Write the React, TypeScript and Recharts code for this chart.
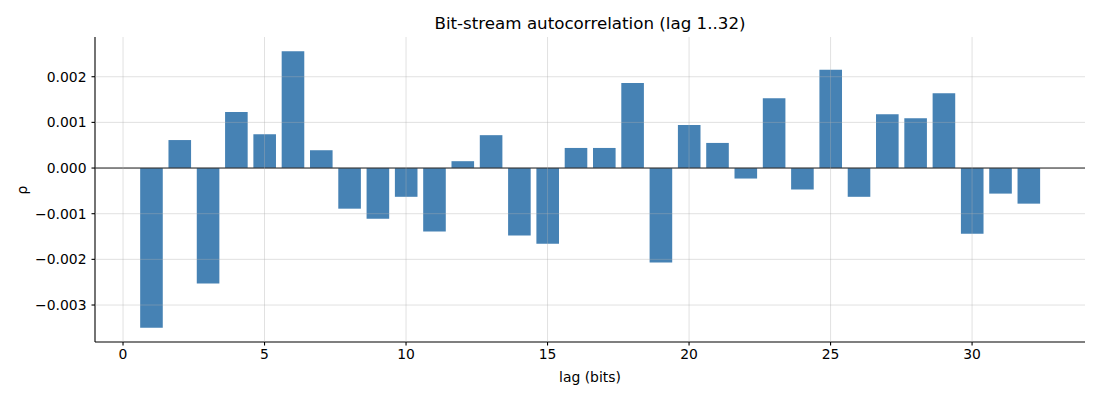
import React from 'react';
import { BarChart, Bar, XAxis, YAxis, CartesianGrid, ReferenceLine } from 'recharts';

const lags = [1, 2, 3, 4, 5, 6, 7, 8, 9, 10, 11, 12, 13, 14, 15, 16, 17, 18, 19, 20, 21, 22, 23, 24, 25, 26, 27, 28, 29, 30, 31, 32];
const rho = [
  -0.0035, 0.000613, -0.00253, 0.00123, 0.00074, 0.00256, 0.00039, -0.00089,
  -0.00111, -0.00063, -0.00139, 0.00015, 0.00072, -0.00148, -0.00166, 0.00044,
  0.00044, 0.00186, -0.00207, 0.00094, 0.00055, -0.00023, 0.00153, -0.00047,
  0.00215, -0.00063, 0.00118, 0.00109, 0.00164, -0.00144, -0.00056, -0.00078,
];
const xTicks = [0, 5, 10, 15, 20, 25, 30];
const yTicks = [-0.003, -0.002, -0.001, 0, 0.001, 0.002];

const title = 'Bit-stream autocorrelation (lag 1..32)';
const xLabel = 'lag (bits)';
const yLabel = 'ρ';

const data = lags.map((lag, i) => ({ lag, rho: rho[i] }));

const fmtY = (v: number) => {
  const s = Math.abs(v).toFixed(3);
  return v < -1e-12 ? '\u2212' + s : s;
};

const FONT = '"DejaVu Sans", sans-serif';

export default function App() {
  return (
    <div style={{ position: 'absolute', left: 0, top: 0, width: 1100, height: 400, background: '#fff', fontFamily: FONT }}>
      <div style={{ position: 'absolute', left: 95, width: 990, top: 13, textAlign: 'center', fontSize: 16.7, lineHeight: '20px', color: '#000' }}>
        {title}
      </div>
      <div style={{ position: 'absolute', left: 95, width: 990, top: 368, textAlign: 'center', fontSize: 13.9, lineHeight: '18px', color: '#000' }}>
        {xLabel}
      </div>
      <div style={{ position: 'absolute', left: 12, top: 180, width: 20, height: 20, lineHeight: '20px', textAlign: 'center', fontSize: 13.9, color: '#000', transform: 'rotate(-90deg)' }}>
        {yLabel}
      </div>
      <BarChart width={1100} height={400} data={data} margin={{ top: 37, right: 15, bottom: 0, left: 0 }}>
        <XAxis
          type="number"
          dataKey="lag"
          domain={[-0.99, 33.99]}
          ticks={xTicks}
          allowDataOverflow
          height={58}
          tickSize={3.5}
          tickMargin={4}
          interval={0}
          stroke="#000"
          strokeWidth={1.1}
          tick={{ fill: '#000', fontSize: 13.9, fontFamily: FONT }}
          tickLine={{ stroke: '#000', strokeWidth: 1.1 }}
        />
        <YAxis
          type="number"
          domain={[-0.00381, 0.00287]}
          ticks={yTicks}
          allowDataOverflow
          width={95}
          tickSize={3.5}
          tickMargin={5}
          interval={0}
          tickFormatter={fmtY}
          stroke="#000"
          strokeWidth={1.1}
          tick={{ fill: '#000', fontSize: 13.9, fontFamily: FONT }}
          tickLine={{ stroke: '#000', strokeWidth: 1.1 }}
        />
        <Bar dataKey="rho" fill="#4682B4" barSize={22.6} isAnimationActive={false} />
        <CartesianGrid
          horizontalValues={yTicks}
          verticalValues={xTicks}
          stroke="#b0b0b0"
          strokeOpacity={0.38}
          strokeWidth={1}
          zIndex={500}
        />
        <ReferenceLine y={0} stroke="#000" strokeWidth={1} />
      </BarChart>
    </div>
  );
}
